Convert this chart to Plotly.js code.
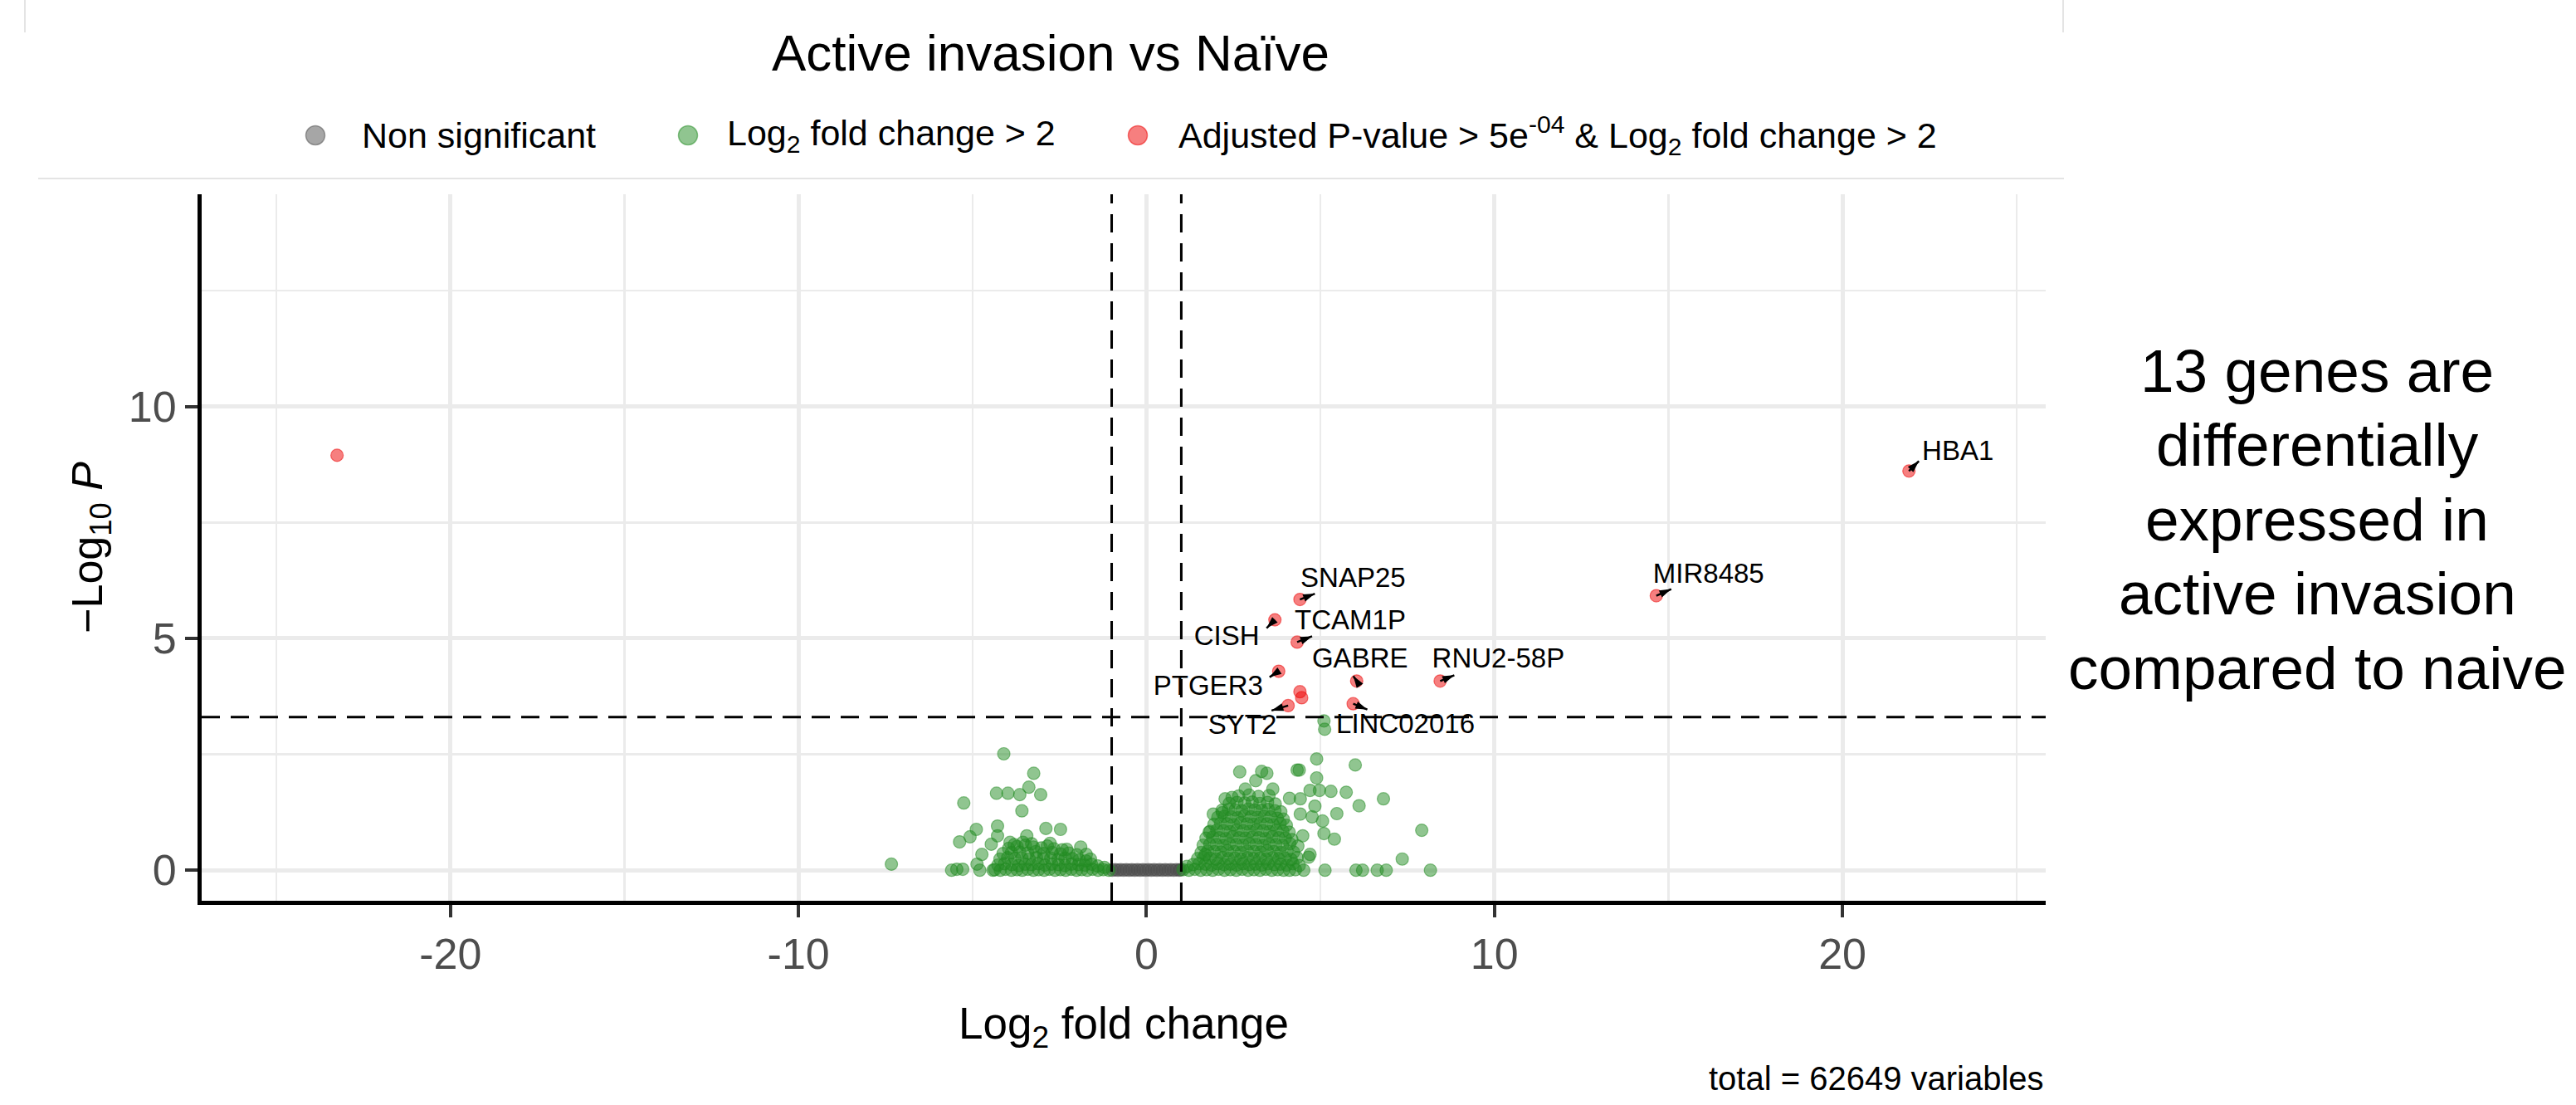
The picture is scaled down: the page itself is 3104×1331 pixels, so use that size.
<!DOCTYPE html>
<html>
<head>
<meta charset="utf-8">
<script src="https://cdn.plot.ly/plotly-3.0.1.min.js"></script>
<style>
html,body{margin:0;padding:0;background:#ffffff;}
#chart{width:3104px;height:1331px;}
</style>
</head>
<body>
<div id="chart"></div>
<script>
// ---------------- DATA ----------------
const xTicks = [-20, -10, 0, 10, 20];
const yTicks = [0, 5, 10];
const xMinorGrid = [-25, -15, -5, 5, 15, 25];
const yMinorGrid = [2.5, 7.5, 12.5];
const xRange = [-27.15, 25.84];
const yRange = [-0.66, 14.58];
const fcCutoff = 1;
const pCutoff = 5e-4;

// Non significant genes (dense grey band between the fold-change cut-offs)
const nsPoints = [
  [-0.98,0.00],[-0.90,0.01],[-0.82,0.00],[-0.74,0.01],[-0.66,0.00],[-0.58,0.01],[-0.50,0.00],
  [-0.42,0.01],[-0.34,0.00],[-0.26,0.01],[-0.18,0.00],[-0.10,0.01],[-0.02,0.00],[0.06,0.01],
  [0.14,0.00],[0.22,0.01],[0.30,0.00],[0.38,0.01],[0.46,0.00],[0.54,0.01],[0.62,0.00],
  [0.70,0.01],[0.78,0.00],[0.86,0.01],[0.94,0.00],[0.98,0.01]
];

// Log2 fold change > 2 : left side, scattered points
const greenLeftSparse = [
  [-7.33,0.13],[-5.60,0.00],[-5.45,0.02],[-5.28,0.02],[-5.37,0.61],[-5.25,1.45],[-5.07,0.72],
  [-4.89,0.88],[-4.87,0.13],[-4.79,0.00],[-4.73,0.34],[-4.46,0.56],[-4.41,0.00],[-4.31,1.66],
  [-4.28,0.95],[-4.28,0.74],[-4.10,2.51],[-3.98,1.66],[-3.92,0.60],[-3.64,1.63],[-3.58,1.28],
  [-3.44,0.74],[-3.38,1.79],[-3.24,2.09],[-3.04,1.63],[-2.89,0.90],[-2.77,0.58],[-2.47,0.88],
  [-2.29,0.45],[-1.89,0.50],[-1.73,0.34],[-1.61,0.24]
];
// Log2 fold change > 2 : left side, dense core
const greenLeftCore = [
  [-4.36,0.01],[-4.20,0.00],[-4.05,0.02],[-3.88,0.00],[-3.72,0.01],[-3.57,0.00],[-3.41,0.02],
  [-3.25,0.00],[-3.10,0.01],[-2.94,0.00],[-2.79,0.02],[-2.63,0.00],[-2.47,0.01],[-2.32,0.00],
  [-2.16,0.02],[-2.01,0.00],[-1.86,0.01],[-1.70,0.00],[-1.55,0.02],[-1.39,0.00],[-1.24,0.01],
  [-1.08,0.00],
  [-4.27,0.11],[-4.08,0.14],[-3.87,0.12],[-3.68,0.10],[-3.49,0.13],[-3.30,0.12],[-3.11,0.14],
  [-2.92,0.11],[-2.72,0.13],[-2.53,0.12],[-2.34,0.10],[-2.15,0.13],[-1.96,0.12],[-1.77,0.11],
  [-1.58,0.13],[-1.40,0.09],[-1.21,0.06],
  [-4.21,0.24],[-3.99,0.27],[-3.78,0.25],[-3.58,0.26],[-3.37,0.24],[-3.16,0.27],[-2.96,0.25],
  [-2.75,0.26],[-2.54,0.23],[-2.34,0.26],[-2.13,0.25],[-1.93,0.22],[-1.74,0.20],
  [-4.12,0.36],[-3.88,0.38],[-3.64,0.39],[-3.41,0.37],[-3.18,0.40],[-2.95,0.36],[-2.71,0.38],
  [-2.47,0.35],[-2.23,0.37],[-2.00,0.33],
  [-3.96,0.47],[-3.72,0.51],[-3.48,0.54],[-3.25,0.50],[-3.02,0.48],[-2.66,0.46],[-2.42,0.44],
  [-3.55,0.60],[-3.30,0.57],[-3.80,0.55],[-2.85,0.52]
];
// Log2 fold change > 2 : right side, scattered points
const greenRightSparse = [
  [4.89,2.40],[6.00,2.27],[2.68,2.12],[3.31,2.13],[3.46,2.09],[4.33,2.16],[4.39,2.16],
  [4.89,1.99],[3.14,1.93],[3.63,1.75],[2.84,1.75],[2.26,1.54],[2.46,1.57],[4.70,1.72],
  [4.97,1.72],[5.30,1.70],[5.74,1.68],[6.81,1.54],[6.11,1.39],[4.84,1.38],[4.11,1.55],
  [4.42,1.54],[5.47,1.22],[1.92,1.21],[2.18,1.24],[4.42,1.21],[4.76,1.15],[5.06,1.06],
  [7.91,0.86],[1.80,0.82],[5.10,0.79],[5.40,0.67],[4.49,0.74],[4.35,0.52],[4.70,0.34],
  [4.66,0.28],[7.35,0.24],[5.13,0.00],[6.02,0.00],[6.21,0.00],[6.63,0.00],[6.89,0.00],
  [8.16,0.00],[4.52,0.00],[4.11,0.00],[1.69,0.34],[5.10,3.22],[5.12,3.04]
];
// Log2 fold change > 2 : right side, dense core
const greenRightCore = [
  [1.05,0.01],[1.22,0.00],[1.39,0.02],[1.56,0.00],[1.73,0.01],[1.90,0.00],[2.07,0.02],
  [2.24,0.00],[2.41,0.01],[2.58,0.00],[2.75,0.02],[2.92,0.00],[3.09,0.01],[3.26,0.00],
  [3.43,0.02],[3.60,0.00],[3.77,0.01],[3.94,0.00],[4.28,0.01],
  [1.16,0.08],[1.34,0.12],[1.51,0.14],[1.69,0.13],[1.87,0.11],[2.05,0.14],[2.23,0.12],
  [2.41,0.13],[2.59,0.11],[2.77,0.14],[2.95,0.12],[3.13,0.13],[3.31,0.11],[3.49,0.14],
  [3.67,0.12],[3.85,0.13],[4.03,0.11],[4.21,0.14],[4.39,0.10],
  [1.47,0.25],[1.64,0.27],[1.82,0.26],[2.00,0.24],[2.18,0.27],[2.36,0.25],[2.54,0.26],
  [2.72,0.24],[2.90,0.27],[3.08,0.25],[3.26,0.26],[3.44,0.24],[3.62,0.27],[3.80,0.25],
  [3.98,0.26],[4.16,0.23],[4.33,0.27],
  [1.57,0.38],[1.76,0.41],[1.95,0.40],[2.14,0.39],[2.33,0.42],[2.52,0.40],[2.71,0.38],
  [2.90,0.41],[3.09,0.40],[3.28,0.39],[3.47,0.42],[3.66,0.40],[3.85,0.38],[4.04,0.41],
  [4.23,0.39],
  [1.63,0.54],[1.82,0.56],[2.01,0.55],[2.20,0.53],[2.39,0.56],[2.58,0.55],[2.77,0.54],
  [2.96,0.57],[3.15,0.55],[3.34,0.53],[3.53,0.56],[3.72,0.55],[3.91,0.54],[4.12,0.57],
  [1.71,0.69],[1.90,0.71],[2.09,0.70],[2.28,0.68],[2.47,0.72],[2.66,0.70],[2.85,0.69],
  [3.04,0.71],[3.23,0.70],[3.42,0.68],[3.61,0.72],[3.80,0.70],[3.99,0.69],[4.18,0.66],
  [1.83,0.84],[2.02,0.86],[2.21,0.85],[2.40,0.83],[2.59,0.86],[2.78,0.85],[2.97,0.84],
  [3.16,0.87],[3.35,0.85],[3.54,0.83],[3.73,0.86],[3.92,0.84],[4.10,0.82],
  [1.94,0.99],[2.13,1.01],[2.32,1.00],[2.51,0.98],[2.70,1.02],[2.89,1.00],[3.08,0.99],
  [3.27,1.01],[3.46,1.00],[3.65,0.98],[3.84,1.01],[4.02,0.97],
  [2.05,1.14],[2.24,1.16],[2.43,1.15],[2.62,1.13],[2.81,1.17],[3.00,1.15],[3.19,1.14],
  [3.38,1.16],[3.57,1.15],[3.76,1.12],[3.93,1.10],
  [2.17,1.29],[2.36,1.31],[2.55,1.30],[2.74,1.28],[2.93,1.32],[3.12,1.30],[3.31,1.29],
  [3.50,1.31],[3.69,1.28],[3.86,1.26],
  [2.38,1.44],[2.60,1.46],[2.82,1.45],[3.04,1.47],[3.26,1.44],[3.48,1.46],[3.70,1.43],
  [2.65,1.60],[2.95,1.62],[3.22,1.59],[3.52,1.61]
];

// Adjusted P-value & Log2 fold change significant genes
const sigGenes = ['', 'HBA1', 'MIR8485', 'SNAP25', 'CISH', 'TCAM1P', 'PTGER3', '', '', 'SYT2', 'GABRE', 'LINC02016', 'RNU2-58P'];
const sigLog2FC = [-23.26, 21.91, 14.65, 4.41, 3.69, 4.33, 3.80, 4.41, 4.46, 4.07, 6.04, 5.94, 8.44];
const sigNegLog10P = [8.95, 8.61, 5.92, 5.84, 5.40, 4.92, 4.29, 3.85, 3.72, 3.55, 4.08, 3.59, 4.08];

const legendNames = [
  'Non significant',
  'Log<sub>2</sub> fold change &gt; 2',
  'Adjusted P-value &gt; 5e<sup>-04</sup> &amp; Log<sub>2</sub> fold change &gt; 2'
];
const titleText = 'Active invasion vs Naïve';
const xTitle = 'Log<sub>2</sub> fold change';
const yTitle = '\u2212Log<sub>10</sub> <i>P</i>';
const captionText = 'total = 62649 variables';
const noteLines = ['13 genes are', 'differentially', 'expressed in', 'active invasion', 'compared to naive'];

// ---------------- LAYOUT / STYLE ----------------
const FONT = 'Liberation Sans, Arial, Helvetica, sans-serif';
const W = 3104, H = 1331;
const PL = 243, PR = 2465, PT = 234, PB = 1085;
const px2x = p => (p - PL) / (PR - PL);
const py2y = p => (PB - p) / (PB - PT);
const xPerPx = (xRange[1] - xRange[0]) / (PR - PL);
const yPerPx = (yRange[1] - yRange[0]) / (PB - PT);

const colNS = '77,77,77', colFC = '34,139,34', colSig = '238,0,0';

// label placement (pixel offsets from each point): label centre and arrow tip
const labelPlacement = {
  'HBA1':      {lx: 59, ly: -22, ax: 12, ay: -12},
  'MIR8485':   {lx: 63, ly: -24, ax: 18, ay: -8},
  'SNAP25':    {lx: 64, ly: -23, ax: 18, ay: -7},
  'CISH':      {lx: -58, ly: 22, ax: -10, ay: 10},
  'TCAM1P':    {lx: 64, ly: -24, ax: 18, ay: -7},
  'PTGER3':    {lx: -85, ly: 20, ax: -11, ay: 7},
  'SYT2':      {lx: -55, ly: 26, ax: -20, ay: 6},
  'GABRE':     {lx: 4, ly: -25, ax: -4, ay: -6},
  'LINC02016': {lx: 63, ly: 27, ax: 17, ay: 7},
  'RNU2-58P':  {lx: 70, ly: -25, ax: 17, ay: -7}
};

// legend layout (pixel positions of the original key)
const legendDots = [380, 829, 1371];
const legendTextX = [434, 874, 1418];
const legendY = 163;
// note lines: vertical centres in pixels, horizontal centre
const noteCentreX = 2792;
const noteLineY = [446, 535, 625, 714, 804];

const greenAll = greenLeftSparse.concat(greenLeftCore, greenRightCore, greenRightSparse);

function pointTrace(pts, name, rgb) {
  return {
    type: 'scatter', mode: 'markers', name: name, showlegend: false,
    x: pts.map(p => p[0]), y: pts.map(p => p[1]),
    marker: {size: 15, color: 'rgba(' + rgb + ',0.5)', line: {width: 1.2, color: 'rgba(' + rgb + ',0.5)'}},
    hoverinfo: 'skip'
  };
}

// repel-style labels and connector segments
const segX = [], segY = [], tipX = [], tipY = [], tipAngle = [];
const labX = [], labY = [], labText = [];
sigGenes.forEach((g, i) => {
  if (!g) return;
  const pl = labelPlacement[g];
  const x0 = sigLog2FC[i], y0 = sigNegLog10P[i];
  const x1 = x0 + pl.ax * xPerPx, y1 = y0 - pl.ay * yPerPx;
  segX.push(x0, x1, null);
  segY.push(y0, y1, null);
  tipX.push(x1); tipY.push(y1);
  tipAngle.push(Math.atan2(pl.ax, -pl.ay) * 180 / Math.PI);
  labX.push(x0 + pl.lx * xPerPx);
  labY.push(y0 - pl.ly * yPerPx);
  labText.push(g);
});

const traces = [
  pointTrace(nsPoints, legendNames[0], colNS),
  pointTrace(greenAll, legendNames[1], colFC),
  {
    type: 'scatter', mode: 'markers', name: legendNames[2], showlegend: false,
    x: sigLog2FC, y: sigNegLog10P,
    marker: {size: 15, color: 'rgba(' + colSig + ',0.5)', line: {width: 1.2, color: 'rgba(' + colSig + ',0.5)'}},
    hoverinfo: 'skip'
  },
  {
    type: 'scatter', mode: 'lines', showlegend: false, hoverinfo: 'skip',
    x: segX, y: segY, connectgaps: false,
    line: {color: '#000000', width: 2.5}
  },
  {
    type: 'scatter', mode: 'markers', showlegend: false, hoverinfo: 'skip',
    x: tipX, y: tipY,
    marker: {symbol: 'arrow', size: 15, color: '#000000', angle: tipAngle, line: {width: 0}}
  },
  {
    type: 'scatter', mode: 'text', showlegend: false, hoverinfo: 'skip',
    x: labX, y: labY, text: labText, textposition: 'middle center', cliponaxis: false,
    textfont: {family: FONT, size: 33, color: '#000000'}
  }
];

const annotations = [];
legendNames.forEach((n, i) => {
  annotations.push({
    xref: 'paper', yref: 'paper', x: px2x(legendTextX[i]), y: py2y(legendY),
    xanchor: 'left', yanchor: 'middle', showarrow: false, text: n,
    font: {family: FONT, size: 43, color: '#000000'}
  });
});
noteLines.forEach((t, i) => {
  annotations.push({
    xref: 'paper', yref: 'paper', x: px2x(noteCentreX), y: py2y(noteLineY[i]),
    xanchor: 'center', yanchor: 'middle', showarrow: false,
    text: t, font: {family: FONT, size: 73, color: '#000000'}
  });
});
annotations.push({
  xref: 'paper', yref: 'paper', x: px2x(2465), y: py2y(1299),
  xanchor: 'right', yanchor: 'middle', showarrow: false,
  text: captionText, font: {family: FONT, size: 40, color: '#000000'}
});

const hLine = -Math.log10(pCutoff);
const dashLine = {color: '#000000', width: 3, dash: '22px,13px'};
const shapes = [
  {type: 'line', xref: 'x', yref: 'paper', x0: -fcCutoff, x1: -fcCutoff, y0: 0, y1: 1, line: dashLine},
  {type: 'line', xref: 'x', yref: 'paper', x0: fcCutoff, x1: fcCutoff, y0: 0, y1: 1, line: dashLine},
  {type: 'line', xref: 'paper', yref: 'y', x0: 0, x1: 1, y0: hLine, y1: hLine, line: dashLine},
  // light frame lines of the original figure
  {type: 'line', xref: 'paper', yref: 'paper', x0: px2x(46), x1: px2x(2487), y0: py2y(215), y1: py2y(215), line: {color: '#e4e4e4', width: 2}},
  {type: 'line', xref: 'paper', yref: 'paper', x0: px2x(30), x1: px2x(30), y0: py2y(0), y1: py2y(39), line: {color: '#e4e4e4', width: 2}},
  {type: 'line', xref: 'paper', yref: 'paper', x0: px2x(2486), x1: px2x(2486), y0: py2y(0), y1: py2y(39), line: {color: '#e4e4e4', width: 2}}
];
// legend key dots
[colNS, colFC, colSig].forEach((c, i) => {
  shapes.push({
    type: 'circle', xref: 'paper', yref: 'paper', xsizemode: 'pixel', ysizemode: 'pixel',
    xanchor: px2x(legendDots[i]), yanchor: py2y(legendY), x0: -11.5, x1: 11.5, y0: -11.5, y1: 11.5,
    fillcolor: 'rgba(' + c + ',0.5)', line: {color: 'rgba(' + c + ',0.5)', width: 1.5}
  });
});

const axisCommon = {
  showgrid: true, gridcolor: '#ebebeb', gridwidth: 5, zeroline: false,
  showline: true, linecolor: '#000000', linewidth: 5,
  ticks: 'outside', ticklen: 15, tickwidth: 4, tickcolor: '#333333',
  tickfont: {family: FONT, size: 52, color: '#4d4d4d'},
  tickmode: 'array', automargin: false, fixedrange: true
};

const layout = {
  width: W, height: H,
  margin: {l: PL, r: W - PR, t: PT, b: H - PB, pad: 0},
  paper_bgcolor: '#ffffff', plot_bgcolor: '#ffffff',
  font: {family: FONT, color: '#000000'},
  showlegend: false,
  title: {text: titleText, xref: 'container', yref: 'container', x: 1266 / W, y: 1 - 63 / H,
          xanchor: 'center', yanchor: 'middle', font: {family: FONT, size: 62, color: '#000000'}},
  xaxis: Object.assign({}, axisCommon, {
    range: xRange, tickvals: xTicks, ticktext: xTicks.map(String),
    minor: {tickmode: 'array', tickvals: xMinorGrid, showgrid: true, gridcolor: '#ebebeb', gridwidth: 2.5, ticks: ''},
    title: {text: xTitle, font: {family: FONT, size: 53, color: '#000000'}, standoff: 38}
  }),
  yaxis: Object.assign({}, axisCommon, {
    range: yRange, tickvals: yTicks, ticktext: yTicks.map(String),
    minor: {tickmode: 'array', tickvals: yMinorGrid, showgrid: true, gridcolor: '#ebebeb', gridwidth: 2.5, ticks: ''},
    title: {text: yTitle, font: {family: FONT, size: 52, color: '#000000'}, standoff: 16}
  }),
  annotations: annotations,
  shapes: shapes
};

Plotly.newPlot('chart', traces, layout, {displayModeBar: false, staticPlot: true});
</script>
</body>
</html>
